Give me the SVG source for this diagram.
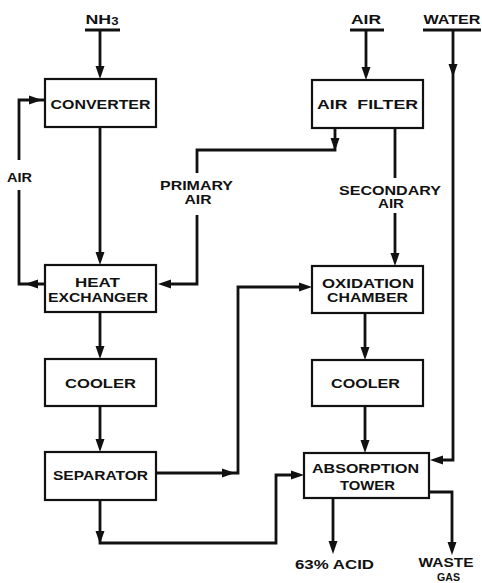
<svg xmlns="http://www.w3.org/2000/svg" xmlns:xlink="http://www.w3.org/1999/xlink" width="482" height="583" viewBox="0 0 482 583">
<style>
.box{fill:#fff;stroke:#111;stroke-width:2.2}
.ln{fill:none;stroke:#111;stroke-width:2.8;stroke-linejoin:miter}
.ul{stroke:#111;stroke-width:3}
text{font-family:"Liberation Sans",Arial,sans-serif;font-weight:bold;font-size:13.5px;fill:#111;text-anchor:middle}
.sm{font-size:12.5px}
.xs{font-size:10px}
</style>
<defs>
<path id="ah" d="M0,0 L-4.5,-13 L4.5,-13 Z" fill="#111"/>
</defs>
<rect width="482" height="583" fill="#fff"/>

<g id="connectors">
<!-- feeds -->
<line class="ul" x1="85" y1="30" x2="120" y2="30"/>
<line class="ln" x1="100" y1="30" x2="100" y2="70"/>
<use xlink:href="#ah" transform="translate(100,79)"/>
<line class="ul" x1="350" y1="30" x2="384" y2="30"/>
<line class="ln" x1="366" y1="30" x2="366" y2="72"/>
<use xlink:href="#ah" transform="translate(366,80)"/>
<line class="ul" x1="423" y1="30" x2="481" y2="30"/>
<path class="ln" d="M453,30 V460 H436"/>
<use xlink:href="#ah" transform="translate(453,77)"/>
<use xlink:href="#ah" transform="translate(430,460) rotate(90)"/>
<!-- converter to heat exchanger -->
<line class="ln" x1="100" y1="127" x2="100" y2="256"/>
<use xlink:href="#ah" transform="translate(100,265)"/>
<!-- air loop -->
<path class="ln" d="M45,284 H19 V190"/>
<path class="ln" d="M19,160 V100 H45"/>
<use xlink:href="#ah" transform="translate(25,284) rotate(90)"/>
<use xlink:href="#ah" transform="translate(42,100) rotate(-90)"/>
<!-- primary air -->
<path class="ln" d="M335,128 V150 H197 V173"/>
<use xlink:href="#ah" transform="translate(335,151)"/>
<path class="ln" d="M197,215 V284 H164"/>
<use xlink:href="#ah" transform="translate(158,284) rotate(90)"/>
<!-- secondary air -->
<line class="ln" x1="395" y1="128" x2="395" y2="178"/>
<line class="ln" x1="395" y1="213" x2="395" y2="258"/>
<use xlink:href="#ah" transform="translate(395,266)"/>
<!-- left column -->
<line class="ln" x1="100" y1="312" x2="100" y2="350"/>
<use xlink:href="#ah" transform="translate(100,359)"/>
<line class="ln" x1="100" y1="406" x2="100" y2="444"/>
<use xlink:href="#ah" transform="translate(100,452)"/>
<!-- separator to oxidation chamber -->
<path class="ln" d="M156,473 H238 V287 H305"/>
<use xlink:href="#ah" transform="translate(235,473) rotate(-90)"/>
<use xlink:href="#ah" transform="translate(312,287) rotate(-90)"/>
<!-- separator to absorption -->
<path class="ln" d="M100,500 V543 H276 V475 H297"/>
<use xlink:href="#ah" transform="translate(100,544)"/>
<use xlink:href="#ah" transform="translate(304,475) rotate(-90)"/>
<!-- right column -->
<line class="ln" x1="365" y1="313" x2="365" y2="352"/>
<use xlink:href="#ah" transform="translate(365,360)"/>
<line class="ln" x1="365" y1="406" x2="365" y2="445"/>
<use xlink:href="#ah" transform="translate(365,453)"/>
<!-- outputs -->
<line class="ln" x1="333" y1="498" x2="333" y2="545"/>
<use xlink:href="#ah" transform="translate(333,554)"/>
<path class="ln" d="M429,492 H452 V545"/>
<use xlink:href="#ah" transform="translate(452,555)"/>
</g>

<g id="labels">
<text x="102" y="24" textLength="33" lengthAdjust="spacingAndGlyphs">NH<tspan font-size="10" dy="1">3</tspan></text>
<text x="366" y="24" textLength="30" lengthAdjust="spacingAndGlyphs">AIR</text>
<text x="452" y="24" textLength="57" lengthAdjust="spacingAndGlyphs">WATER</text>
<text class="sm" x="19.5" y="182" textLength="25" lengthAdjust="spacingAndGlyphs">AIR</text>
<text class="sm" x="196.5" y="190" textLength="73" lengthAdjust="spacingAndGlyphs">PRIMARY</text>
<text class="sm" x="198" y="204" textLength="27" lengthAdjust="spacingAndGlyphs">AIR</text>
<text class="sm" x="390" y="195" textLength="102" lengthAdjust="spacingAndGlyphs">SECONDARY</text>
<text class="sm" x="391" y="208" textLength="26" lengthAdjust="spacingAndGlyphs">AIR</text>
<text x="334.5" y="569" textLength="79" lengthAdjust="spacingAndGlyphs">63% ACID</text>
<text class="sm" x="446" y="567" textLength="55" lengthAdjust="spacingAndGlyphs">WASTE</text>
<text class="xs" x="448.5" y="580.5" textLength="23" lengthAdjust="spacingAndGlyphs">GAS</text>
</g>

<g id="converter">
<rect class="box" x="45" y="79" width="111" height="48"/>
<text x="100.5" y="109" textLength="100" lengthAdjust="spacingAndGlyphs">CONVERTER</text>
</g>
<g id="air-filter">
<rect class="box" x="312" y="80" width="111" height="48"/>
<text x="367.5" y="109" textLength="101" lengthAdjust="spacingAndGlyphs" xml:space="preserve">AIR  FILTER</text>
</g>
<g id="heat-exchanger">
<rect class="box" x="45" y="265" width="111" height="47"/>
<text x="97.5" y="287" textLength="45" lengthAdjust="spacingAndGlyphs">HEAT</text>
<text x="98" y="302" textLength="100" lengthAdjust="spacingAndGlyphs">EXCHANGER</text>
</g>
<g id="oxidation-chamber">
<rect class="box" x="312" y="266" width="111" height="47"/>
<text x="368" y="288" textLength="92" lengthAdjust="spacingAndGlyphs">OXIDATION</text>
<text x="367.5" y="302" textLength="81" lengthAdjust="spacingAndGlyphs">CHAMBER</text>
</g>
<g id="cooler-1">
<rect class="box" x="45" y="359" width="111" height="47"/>
<text x="100.5" y="388" textLength="71" lengthAdjust="spacingAndGlyphs">COOLER</text>
</g>
<g id="cooler-2">
<rect class="box" x="312" y="360" width="111" height="46"/>
<text x="365.5" y="388" textLength="69" lengthAdjust="spacingAndGlyphs">COOLER</text>
</g>
<g id="separator">
<rect class="box" x="45" y="452" width="111" height="48"/>
<text x="100.5" y="480" textLength="95" lengthAdjust="spacingAndGlyphs">SEPARATOR</text>
</g>
<g id="absorption-tower">
<rect class="box" x="304" y="453" width="125" height="45"/>
<text x="365.5" y="473" textLength="107" lengthAdjust="spacingAndGlyphs">ABSORPTION</text>
<text x="367.5" y="490" textLength="55" lengthAdjust="spacingAndGlyphs">TOWER</text>
</g>
</svg>
